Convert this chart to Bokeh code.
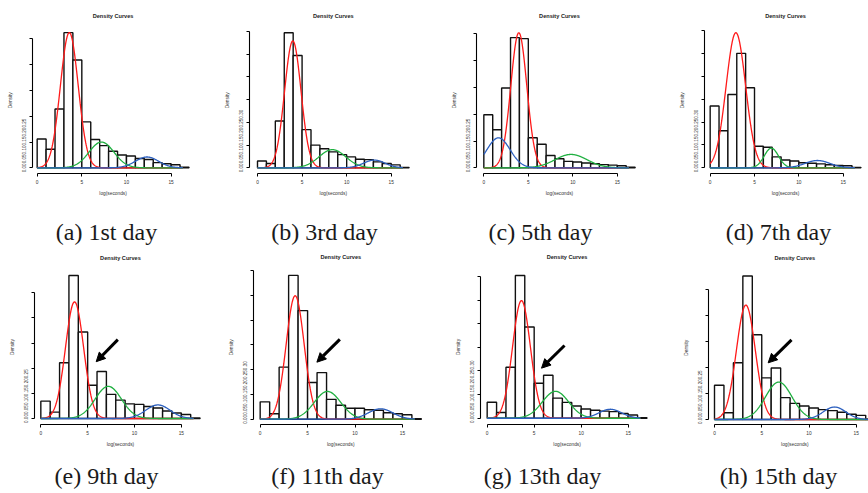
import numpy as np
from bokeh.plotting import figure
from bokeh.layouts import column, row
from bokeh.models import Range1d, LinearAxis, FixedTicker, Label, Arrow, NormalHead
from bokeh.embed import file_html
from bokeh.resources import INLINE

# ---------------- data ----------------
bin_edges = list(range(0, 18))
captions = ["(a) 1st day", "(b) 3rd day", "(c) 5th day", "(d) 7th day",
            "(e) 9th day", "(f) 11th day", "(g) 13th day", "(h) 15th day"]
title_text = "Density Curves"
xlabel_text = "log(seconds)"
ylabel_text = "Density"
x_ticks = [0, 5, 10, 15]

density_day1 = [0.056, 0.036, 0.114, 0.262, 0.209, 0.089, 0.055, 0.043, 0.032, 0.025, 0.023, 0.018, 0.016, 0.010, 0.008, 0.006, 0.001]
density_day3 = [0.015, 0.0095, 0.103, 0.297, 0.247, 0.084, 0.050, 0.042, 0.035, 0.029, 0.024, 0.019, 0.018, 0.013, 0.0095, 0.0066, 0.001]
density_day5 = [0.099, 0.071, 0.149, 0.243, 0.241, 0.056, 0.044, 0.023, 0.017, 0.012, 0.011, 0.009, 0.0075, 0.006, 0.005, 0.004, 0.001]
density_day7 = [0.135, 0.081, 0.160, 0.250, 0.175, 0.047, 0.045, 0.024, 0.017, 0.015, 0.011, 0.010, 0.0087, 0.0066, 0.005, 0.0044, 0.001]
density_day9 = [0.0345, 0.0126, 0.111, 0.2845, 0.172, 0.066, 0.0935, 0.048, 0.0365, 0.029, 0.028, 0.024, 0.021, 0.015, 0.011, 0.008, 0.001]
density_day11 = [0.035, 0.011, 0.105, 0.290, 0.219, 0.074, 0.094, 0.040, 0.028, 0.022, 0.022, 0.019, 0.018, 0.013, 0.011, 0.009, 0.001]
density_day13 = [0.034, 0.012, 0.108, 0.302, 0.193, 0.074, 0.091, 0.0425, 0.0335, 0.026, 0.0195, 0.017, 0.015, 0.014, 0.010, 0.007, 0.001]
density_day15 = [0.066, 0.013, 0.109, 0.276, 0.163, 0.080, 0.099, 0.042, 0.031, 0.026, 0.022, 0.019, 0.017, 0.014, 0.010, 0.008, 0.001]
densities = [density_day1, density_day3, density_day5, density_day7,
             density_day9, density_day11, density_day13, density_day15]

# mixture components (peak height, mean, sd)
red_peak = [0.262, 0.279, 0.252, 0.295, 0.232, 0.249, 0.249, 0.220]
red_mean = [3.6, 3.96, 3.93, 2.9, 3.6, 3.69, 3.65, 3.32]
red_sd = [1.0, 0.92, 0.9, 1.1, 0.97, 0.95, 0.95, 1.0]
green_peak = [0.050, 0.040, 0.025, 0.043, 0.064, 0.056, 0.057, 0.072]
green_mean = [7.2, 8.4, 9.8, 6.9, 7.2, 7.1, 7.27, 6.8]
green_sd = [1.4, 1.5, 1.8, 0.8, 1.4, 1.4, 1.4, 1.4]
blue_peak = [0.021, 0.017, 0.056, 0.016, 0.027, 0.021, 0.019, 0.024]
blue_mean = [12.3, 13.1, 1.65, 12.1, 12.5, 12.7, 13.1, 12.7]
blue_sd = [1.3, 1.2, 1.3, 1.4, 1.3, 1.3, 1.2, 1.2]
curve_range = (0.0, 16.3)

# arrows (panels e-h)
arrow_panel = [4, 5, 6, 7]
arrow_x0 = [8.22, 8.40, 8.23, 8.15]
arrow_y0 = [0.157, 0.161, 0.154, 0.153]
arrow_x1 = [5.91, 5.98, 5.78, 5.68]
arrow_y1 = [0.113, 0.115, 0.106, 0.109]

# ---------------- layout calibration (reference pixels) ----------------
OFF = 0
CELL_X = [0, 217, 434, 651]
CELL_W = [217, 217, 217, 217]
ROW_Y = [0, 252]
ROW_H = [252, 241]
X0 = [36.67, 257.0, 483.33, 709.67, 40.33, 259.67, 486.67, 714.0]
SX = [8.93, 8.917, 8.9, 8.867, 9.367, 9.483, 9.4, 9.45]
Y0 = [167.33, 167.33, 167.33, 167.33, 418.0, 419.67, 419.67, 419.0]
SY = [516, 454.7, 536, 458, 502.7, 498.7, 478, 520]
YAX = [31.67, 249.33, 475.67, 704.33, 34.33, 253.0, 479.67, 707.67]
XAX = [173.3, 173.3, 173.3, 173.3, 423.67, 425.0, 425.67, 424.33]
TITLE_Y = [15, 257]
CAP_X = [106, 324, 540, 778, 106, 327, 542, 778]
CAP_STANDOFF = [20, 13]

FONT = "Liberation Sans"
SERIF = "Liberation Serif"
GF = 4.6
AF = "4.8px"
RED, GREEN, BLUE = "#FF1A1A", "#1FB040", "#2B5FBF"


def gauss(x, a, m, s):
    return a * np.exp(-(x - m) ** 2 / (2 * s * s))


def make_panel(i):
    r, c = divmod(i, 4)
    W, H = CELL_W[c], ROW_H[r]
    cx, cy = CELL_X[c], ROW_Y[r]
    bl = int(round(YAX[i] - OFF - cx))
    bb = int(round(H - (XAX[i] - OFF - cy)))
    fl = cx + bl + OFF
    fr = cx + W + OFF
    ft = cy + OFF
    fb = cy + H - bb + OFF
    xr = Range1d((fl - X0[i]) / SX[i], (fr - X0[i]) / SX[i])
    yr = Range1d((Y0[i] - fb) / SY[i], (Y0[i] - ft) / SY[i])
    p = figure(width=W, height=H, x_range=xr, y_range=yr, output_backend="svg",
               toolbar_location=None, x_axis_type=None, y_axis_type=None, title=None,
               min_border_left=bl, min_border_bottom=bb, min_border_top=0, min_border_right=0)
    p.outline_line_color = None
    p.background_fill_color = "white"
    p.border_fill_color = "white"

    dens = densities[i]
    p.quad(left=bin_edges[:-1], right=bin_edges[1:], bottom=0, top=dens,
           fill_color="white", line_color="#111111", line_width=1.4)

    xg = np.linspace(curve_range[0], curve_range[1], 400)
    p.line(xg, gauss(xg, red_peak[i], red_mean[i], red_sd[i]), line_color=RED, line_width=1.3)
    p.line(xg, gauss(xg, green_peak[i], green_mean[i], green_sd[i]), line_color=GREEN, line_width=1.3)
    p.line(xg, gauss(xg, blue_peak[i], blue_mean[i], blue_sd[i]), line_color=BLUE, line_width=1.3)

    if i in arrow_panel:
        k = arrow_panel.index(i)
        p.add_layout(Arrow(end=NormalHead(size=9, fill_color="black", line_color="black", line_width=1),
                           x_start=arrow_x0[k], y_start=arrow_y0[k], x_end=arrow_x1[k], y_end=arrow_y1[k],
                           line_width=3, line_color="black"))

    xmid = bin_edges[-1] / 2
    ymax = max(max(dens), red_peak[i], green_peak[i], blue_peak[i])
    ty = (Y0[i] - TITLE_Y[r]) / SY[i]
    p.add_layout(Label(x=xmid, y=ty, text=title_text, text_align="center", text_baseline="middle",
                       text_font=FONT, text_font_size="5.6px", text_font_style="bold", text_color="#222222"))

    # y axis: tick marks at 0..max, with the crowded label string
    yt = [round(k * 0.05, 2) for k in range(0, 11) if k * 0.05 <= ymax * 1.04 + 1e-9]
    gtext = "".join(f"{t:.2f}" for t in yt)
    ndig = sum(ch.isdigit() for ch in gtext)
    ndot = gtext.count(".")
    glen = GF * (ndig * 0.556 + ndot * 0.278)
    gpos = round((glen / 2 - 4.5) / SY[i], 4)
    yax = LinearAxis(ticker=FixedTicker(ticks=[gpos], minor_ticks=yt), bounds=(0, yt[-1]),
                     major_tick_out=0, major_tick_in=0, minor_tick_out=3, minor_tick_in=0,
                     minor_tick_line_color="black", axis_line_color="black", axis_line_width=1.1,
                     major_label_overrides={gpos: gtext}, major_label_orientation="vertical",
                     major_label_standoff=3, major_label_text_font=FONT,
                     major_label_text_font_size=f"{GF}px", major_label_text_color="#333333")
    p.add_layout(yax, "left")
    dpos = round(ymax / 2, 4)
    dax = LinearAxis(ticker=FixedTicker(ticks=[dpos], minor_ticks=[]), axis_line_color=None,
                     major_tick_out=0, major_tick_in=0, minor_tick_out=0, minor_tick_in=0,
                     major_label_overrides={dpos: ylabel_text}, major_label_orientation="vertical",
                     major_label_standoff=6, major_label_text_font=FONT,
                     major_label_text_font_size=AF, major_label_text_color="#333333")
    p.add_layout(dax, "left")

    xax = LinearAxis(ticker=FixedTicker(ticks=x_ticks, minor_ticks=[]), bounds=(x_ticks[0], x_ticks[-1]),
                     major_tick_out=3, major_tick_in=0, minor_tick_out=0, minor_tick_in=0,
                     axis_line_color="black", axis_line_width=1.1, major_tick_line_color="black",
                     major_label_standoff=3, major_label_text_font=FONT,
                     major_label_text_font_size=AF, major_label_text_color="#333333")
    p.add_layout(xax, "below")
    lax = LinearAxis(ticker=FixedTicker(ticks=[xmid], minor_ticks=[]), axis_line_color=None,
                     major_tick_out=0, major_tick_in=0, minor_tick_out=0, minor_tick_in=0,
                     major_label_overrides={xmid: xlabel_text}, major_label_standoff=4,
                     major_label_text_font=FONT, major_label_text_font_size=AF,
                     major_label_text_color="#333333")
    p.add_layout(lax, "below")
    cpos = round((CAP_X[i] - X0[i]) / SX[i], 3)
    cax = LinearAxis(ticker=FixedTicker(ticks=[cpos], minor_ticks=[]), axis_line_color=None,
                     major_tick_out=0, major_tick_in=0, minor_tick_out=0, minor_tick_in=0,
                     major_label_overrides={cpos: captions[i]}, major_label_standoff=CAP_STANDOFF[r],
                     major_label_text_font=SERIF, major_label_text_font_size="24px",
                     major_label_text_color="#1a1a1a")
    p.add_layout(cax, "below")
    return p


panels = [make_panel(i) for i in range(8)]
layout = column(row(*panels[:4]), row(*panels[4:]))
open("out.html", "w").write(file_html(layout, INLINE))
